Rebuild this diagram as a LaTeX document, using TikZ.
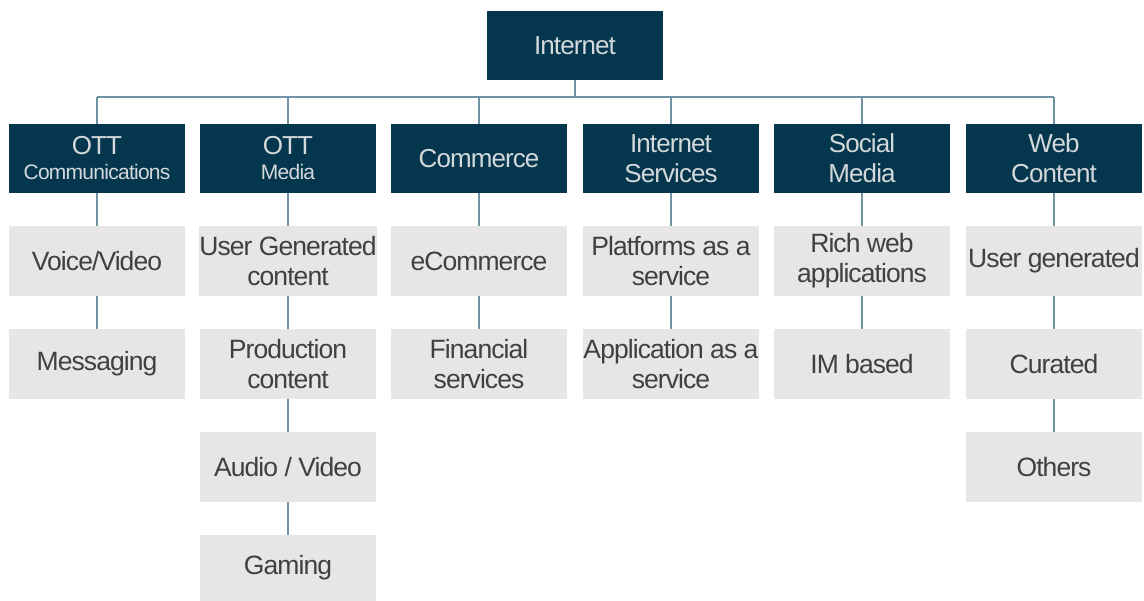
\documentclass[tikz,border=0pt]{standalone}
\usepackage{fontspec}
\setmainfont{Liberation Sans}[LetterSpace=-3.5]
\definecolor{navy}{HTML}{04364D}
\definecolor{boxgray}{HTML}{E7E5E6}
\definecolor{linecol}{HTML}{6F92A4}
\definecolor{navytext}{HTML}{D3D8DB}
\definecolor{graytext}{HTML}{404040}
\tikzset{
  topbox/.style={fill=navy, text=navytext, minimum width=176pt, minimum height=69pt, inner sep=0pt, align=center, font=\fontsize{26}{30}\selectfont},
  subbox/.style={fill=boxgray, text=graytext, minimum width=176pt, minimum height=70pt, inner sep=0pt, align=center, font=\fontsize{26.5}{30}\selectfont},
  conn/.style={draw=linecol, line width=2.6pt}
}
\begin{document}
\begin{tikzpicture}[x=1pt,y=-1pt]
\useasboundingbox (0,0) rectangle (1144,601);
\fill[white] (0,0) rectangle (1144,601);
\coordinate (busL) at (97,97);
\coordinate (busR) at (1054,97);
\node[topbox] (inet) at (575,45.5) {Internet};
\node[topbox] (c1) at (97,158.5) {OTT\\[-5pt]{\fontsize{21}{24}\selectfont Communications}};
\node[topbox] (c2) at (288,158.5) {OTT\\[-5pt]{\fontsize{21}{24}\selectfont Media}};
\node[topbox] (c3) at (479,158.5) {Commerce};
\node[topbox] (c4) at (671,158.5) {Internet\\Services};
\node[topbox] (c5) at (862,158.5) {Social\\Media};
\node[topbox] (c6) at (1054,158.5) {Web\\Content};
% sub boxes
\node[subbox] (a1) at (97,261) {Voice/Video};
\node[subbox] (a2) at (97,364) {Messaging};
\node[subbox] (b1) at (288,261) {User Generated\\content};
\node[subbox] (b2) at (288,364) {Production\\content};
\node[subbox] (b3) at (288,467) {Audio / Video};
\node[subbox, minimum height=66pt] (b4) at (288,568) {Gaming};
\node[subbox] (d1) at (479,261) {eCommerce};
\node[subbox] (d2) at (479,364) {Financial\\services};
\node[subbox] (e1) at (671,261) {Platforms as a\\service};
\node[subbox] (e2) at (671,364) {Application as a\\service};
\node[subbox] (f1) at (862,261) {Rich web\\applications};
\node[subbox] (f2) at (862,364) {IM based};
\node[subbox] (g1) at (1054,261) {User generated};
\node[subbox] (g2) at (1054,364) {Curated};
\node[subbox] (g3) at (1054,467) {Others};
% lines
\draw[conn] (inet.south) -- (inet.south |- busL);
\draw[conn] (busL) -- (busR);
\foreach \c in {c1,c2,c3,c4,c5,c6} {\draw[conn] (\c.north |- busL) -- (\c.north);}
\draw[conn] (c1) -- (a1); \draw[conn] (a1) -- (a2);
\draw[conn] (c2) -- (b1); \draw[conn] (b1) -- (b2); \draw[conn] (b2) -- (b3); \draw[conn] (b3) -- (b4);
\draw[conn] (c3) -- (d1); \draw[conn] (d1) -- (d2);
\draw[conn] (c4) -- (e1); \draw[conn] (e1) -- (e2);
\draw[conn] (c5) -- (f1); \draw[conn] (f1) -- (f2);
\draw[conn] (c6) -- (g1); \draw[conn] (g1) -- (g2); \draw[conn] (g2) -- (g3);
\end{tikzpicture}
\end{document}
